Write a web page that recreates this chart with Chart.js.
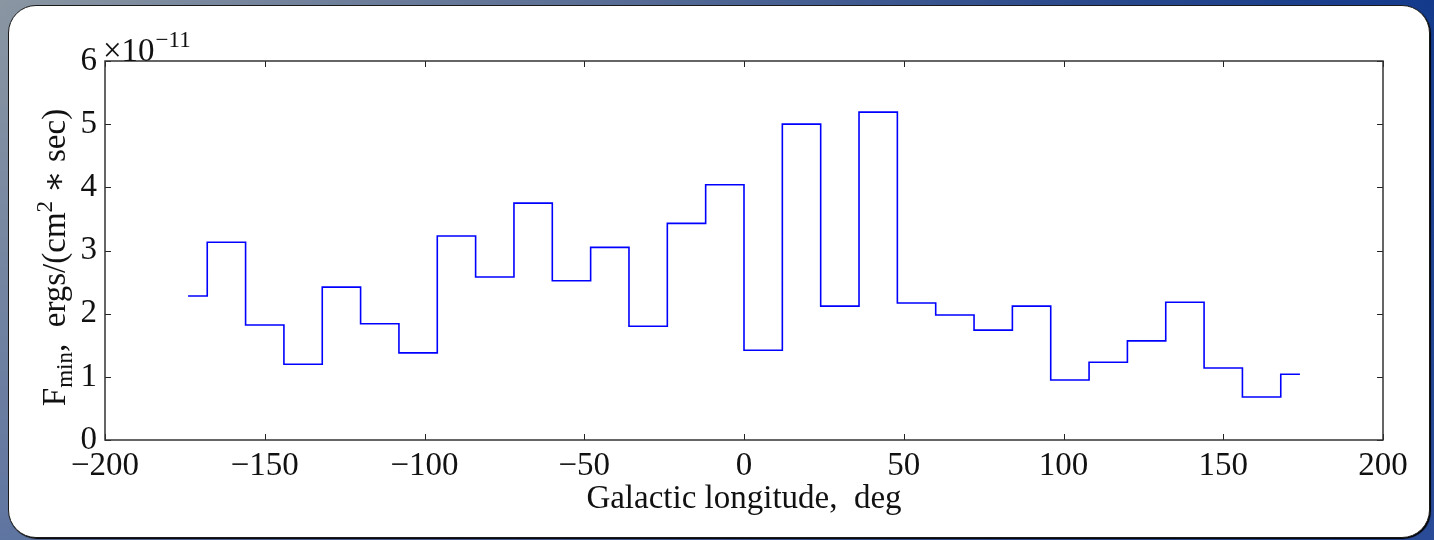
<!DOCTYPE html>
<html>
<head>
<meta charset="utf-8">
<script src="https://cdn.jsdelivr.net/npm/chart.js@4"></script>
<style>
    html, body { margin: 0; padding: 0; }
    body {
        width: 1434px; height: 540px; overflow: hidden; position: relative;
        background:
            linear-gradient(to bottom, rgba(60, 90, 160, 0) 0%, rgba(60, 90, 160, 0.55) 100%),
            linear-gradient(to right, #8a96a2 0%, #5c7096 40%, #2b4a8c 75%, #143a8c 100%);
    }
    #panel {
        position: absolute; left: 8px; top: 5px; width: 1420px; height: 531px;
        background: #fff; border: 1px solid #1a1a1a; border-radius: 28px;
        box-shadow: 1px 1px 1px #000;
    }
    #wrap { position: absolute; left: 0; top: 0; width: 1434px; height: 540px; }
</style>
</head>
<body>
<div id="panel"></div>
<div id="wrap"><canvas id="fluxChart" width="1434" height="540"></canvas></div>
<script>
    // bin centres, deg
    const longitudes = [-174, -162, -150, -138, -126, -114, -102, -90, -78, -66,
        -54, -42, -30, -18, -6, 6, 18, 30, 42, 54,
        66, 78, 90, 102, 114, 126, 138, 150, 162, 174];
    // F_min in units of 1e-11 ergs/(cm^2 * sec)
    const fMin = [2.28, 3.13, 1.82, 1.20, 2.42, 1.84, 1.38, 3.23, 2.58, 3.75,
        2.52, 3.05, 1.80, 3.43, 4.04, 1.42, 5.00, 2.12, 5.19, 2.17,
        1.98, 1.74, 2.12, 0.95, 1.23, 1.57, 2.18, 1.14, 0.68, 1.04];

    const serif = '"Liberation Serif", "DejaVu Serif", serif';
    const textColor = '#111';

    const minus = v => String(v).replace('-', '\u2212');

    // inward ticks on all four sides, the frame and the labels with sub/superscripts
    const matplotlibLook = {
        id: 'matplotlibLook',
        afterDatasetsDraw(chart) {
            const { ctx, chartArea: a, scales: { x, y } } = chart;
            const len = 6;
            ctx.save();
            ctx.strokeStyle = '#222';
            ctx.lineWidth = 1;
            ctx.beginPath();
            x.ticks.forEach(t => {
                const px = Math.round(x.getPixelForValue(t.value)) + 0.5;
                ctx.moveTo(px, a.bottom); ctx.lineTo(px, a.bottom - len);
                ctx.moveTo(px, a.top); ctx.lineTo(px, a.top + len);
            });
            y.ticks.forEach(t => {
                const py = Math.round(y.getPixelForValue(t.value)) + 0.5;
                ctx.moveTo(a.left, py); ctx.lineTo(a.left + len, py);
                ctx.moveTo(a.right, py); ctx.lineTo(a.right - len, py);
            });
            ctx.stroke();
            ctx.lineWidth = 1.5;
            ctx.strokeStyle = '#333';
            ctx.strokeRect(a.left, a.top, a.width, a.height);

            ctx.fillStyle = textColor;
            ctx.textBaseline = 'alphabetic';
            ctx.textAlign = 'left';

            // offset text: x10^-11
            const big = '33px ' + serif, small = '23px ' + serif;
            ctx.font = big;
            ctx.fillText('\u00d710', a.left - 2, a.top);
            const w10 = ctx.measureText('\u00d710').width;
            ctx.font = small;
            ctx.fillText('\u221211', a.left - 1 + w10, a.top - 14);

            // y title
            const parts = [
                { t: 'F', f: big, dy: 0 },
                { t: 'min', f: small, dy: 7 },
                { t: ',  ergs/(cm', f: big, dy: 0 },
                { t: '2', f: small, dy: -13 },
                { t: ' \u2217 sec)', f: big, dy: 0 }
            ];
            let total = 0;
            parts.forEach(p => { ctx.font = p.f; p.w = ctx.measureText(p.t).width; total += p.w; });
            ctx.translate(65, (a.top + a.bottom) / 2 + 7);
            ctx.rotate(-Math.PI / 2);
            let cx = -total / 2;
            parts.forEach(p => { ctx.font = p.f; ctx.fillText(p.t, cx, p.dy); cx += p.w; });
            ctx.restore();
        }
    };

    const ctx = document.getElementById('fluxChart').getContext('2d');
    new Chart(ctx, {
        type: 'line',
        data: {
            datasets: [{
                data: longitudes.map((lon, i) => ({ x: lon, y: fMin[i] })),
                borderColor: '#0000ff',
                borderWidth: 1.6,
                stepped: 'middle',
                pointRadius: 0,
                fill: false
            }]
        },
        options: {
            responsive: false,
            animation: false,
            devicePixelRatio: 1,
            layout: { padding: { left: 0, right: 51, top: 61, bottom: 0 } },
            plugins: {
                legend: { display: false },
                tooltip: { enabled: false }
            },
            scales: {
                x: {
                    type: 'linear',
                    min: -200,
                    max: 200,
                    grid: { display: false, drawTicks: false },
                    border: { display: false },
                    ticks: {
                        stepSize: 50,
                        padding: 7,
                        color: textColor,
                        maxRotation: 0,
                        font: { family: serif, size: 33 },
                        callback: minus
                    },
                    title: {
                        display: true,
                        text: 'Galactic longitude,  deg',
                        color: textColor,
                        font: { family: serif, size: 33 },
                        padding: { top: 0, bottom: 21 }
                    },
                    afterFit(s) { s.height = 100; }
                },
                y: {
                    min: 0,
                    max: 6,
                    grid: { display: false, drawTicks: false },
                    border: { display: false },
                    ticks: {
                        stepSize: 1,
                        padding: 8,
                        color: textColor,
                        font: { family: serif, size: 33 },
                        callback: minus
                    },
                    afterFit(s) { s.width = 105; }
                }
            }
        },
        plugins: [matplotlibLook]
    });
</script>
</body>
</html>
